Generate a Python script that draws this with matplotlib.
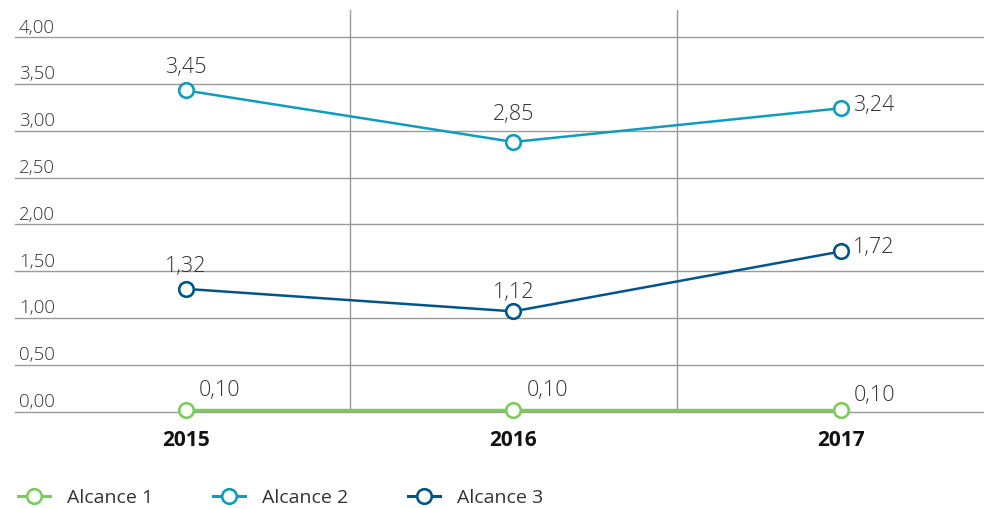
import matplotlib
matplotlib.use('Agg')
import matplotlib.pyplot as plt
from matplotlib.lines import Line2D

# ---- data ----
years = ['2015', '2016', '2017']
alcance1 = [0.02, 0.02, 0.02]
alcance2 = [3.43, 2.88, 3.24]
alcance3 = [1.31, 1.07, 1.71]
labels1 = ['0,10', '0,10', '0,10']
labels2 = ['3,45', '2,85', '3,24']
labels3 = ['1,32', '1,12', '1,72']
yticks = [0, 0.5, 1.0, 1.5, 2.0, 2.5, 3.0, 3.5, 4.0]
series_names = ['Alcance 1', 'Alcance 2', 'Alcance 3']

c1 = '#7ccc5c'
c2 = '#0e9dbd'
c3 = '#00568a'
grid_c = '#9a9a9a'
text_c = '#333333'

plt.rcParams['font.family'] = ['Open Sans', 'DejaVu Sans']

fig = plt.figure(figsize=(9.84, 5.08), dpi=100)
ax = fig.add_axes([15 / 984, 1 - 411.5 / 508, 969 / 984, 401.5 / 508])

x = list(range(len(years)))
ax.set_xlim(-0.522, 2.437)
ax.set_ylim(0, 4.29)

for v in yticks:
    ax.axhline(v, color=grid_c, lw=1.0, zorder=1, clip_on=False)
    ax.text(-0.51, v + 0.005, f'{v:.2f}'.replace('.', ','), fontsize=13.5,
            color=text_c, ha='left', va='bottom', fontweight='light')
for v in [0.5, 1.5]:
    ax.axvline(v, color=grid_c, lw=1.0, zorder=1)

mk = dict(marker='o', markersize=10.5, markerfacecolor='white', markeredgewidth=1.9,
          clip_on=False)
ax.plot(x, alcance1, color=c1, lw=2.5, markeredgecolor=c1, zorder=3, **mk)
ax.plot(x, alcance2, color=c2, lw=1.8, markeredgecolor=c2, zorder=3, **mk)
ax.plot(x, alcance3, color=c3, lw=1.8, markeredgecolor=c3, zorder=3, **mk)

lab_kw = dict(fontsize=15.5, color=text_c, fontweight='light', va='center')
# Alcance 2 labels
ax.text(x[0], alcance2[0] + 0.25, labels2[0], ha='center', **lab_kw)
ax.text(x[1], alcance2[1] + 0.29, labels2[1], ha='center', **lab_kw)
ax.text(x[2] + 0.036, alcance2[2] + 0.03, labels2[2], ha='left', **lab_kw)
# Alcance 3 labels
ax.text(x[0], alcance3[0] + 0.24, labels3[0], ha='center', **lab_kw)
ax.text(x[1], alcance3[1] + 0.20, labels3[1], ha='center', **lab_kw)
ax.text(x[2] + 0.036, alcance3[2] + 0.04, labels3[2], ha='left', **lab_kw)
# Alcance 1 labels
for i, dy in zip(x, [0.2, 0.2, 0.15]):
    ax.text(x[i] + 0.04, alcance1[i] + dy, labels1[i], ha='left', **lab_kw)

for sp in ax.spines.values():
    sp.set_visible(False)
ax.set_xticks(x)
ax.set_xticklabels(years, fontsize=15, fontweight='bold', color='#111111')
ax.tick_params(axis='x', length=0, pad=13)
ax.set_yticks([])

handles = [Line2D([], [], color=c, lw=2.2, marker='o', markersize=10.5,
                  markerfacecolor='white', markeredgewidth=1.9, markeredgecolor=c)
           for c in (c1, c2, c3)]
fig.legend(handles, series_names, loc='center left', bbox_to_anchor=(18 / 984, 1 - 498 / 508),
           ncol=3, frameon=False, fontsize=14, handlelength=1.65, handletextpad=0.85,
           columnspacing=3.1, labelcolor=text_c, borderpad=0, borderaxespad=0)

plt.savefig('out.png', dpi=100)
